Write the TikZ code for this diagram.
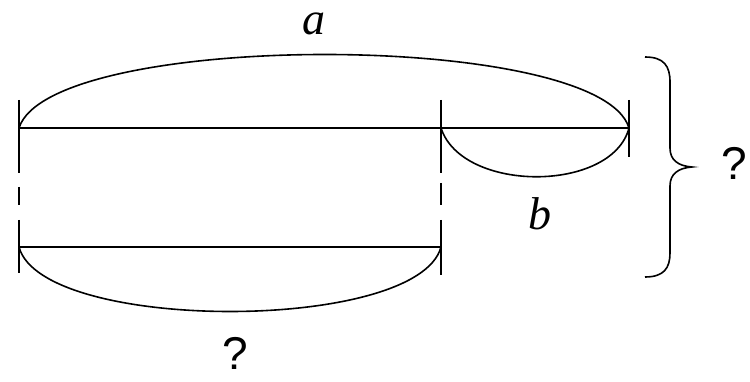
\documentclass[tikz,border=0pt]{standalone}
\usepackage{fontspec}
\setmainfont{Liberation Serif}
\newfontfamily\qfont{Liberation Sans}
\begin{document}
\begin{tikzpicture}[x=1pt,y=-1pt,
  seg/.style={line width=1.8pt},
  tick/.style={line width=2.5pt},
  arcline/.style={line width=1.6pt},
  lbl/.style={inner sep=0pt,font=\fontsize{46}{46}\selectfont\itshape},
  qlbl/.style={inner sep=0pt,font=\fontsize{46}{46}\selectfont\qfont}]
\useasboundingbox (0,0) rectangle (750,382);
% key points
\coordinate (A) at (19,128);
\coordinate (M) at (441,128);
\coordinate (B) at (629,128);
\coordinate (C) at (19,247);
\coordinate (D) at (441,247);
% horizontal segments
\draw[seg] (A) -- (M) -- (B);
\draw[seg] (C) -- (D);
% verticals (left)
\draw[tick] (19,100) -- (19,173);
\draw[tick] (19,187) -- (19,205);
\draw[tick] (19,220) -- (19,273);
% verticals (middle)
\draw[tick] (441,100) -- (441,173);
\draw[tick] (441,183) -- (441,205);
\draw[tick] (441,220) -- (441,275);
% right tick
\draw[tick] (629,100) -- (629,157);
% arcs
\draw[arcline] (A) .. controls (50,30) and (600,30) .. (B);
\draw[arcline] (M) .. controls (462,193) and (612,193) .. (B);
\draw[arcline] (C) .. controls (42,333) and (418,333) .. (D);
% brace
\draw[line width=1.6pt] (645,57) .. controls (664,57) and (670,66) .. (670,82)
  -- (670,148) .. controls (670,160) and (678,166) .. (692,167)
  .. controls (678,168) and (670,174) .. (670,186)
  -- (670,253) .. controls (670,268) and (664,277) .. (645,277);
% labels
\node[lbl] (la) at (314,24) {a};
\node[lbl] (lb) at (540,214) {b};
\node[qlbl] (q1) at (235,353) {?};
\node[qlbl] (q2) at (734,163) {?};
\end{tikzpicture}
\end{document}
